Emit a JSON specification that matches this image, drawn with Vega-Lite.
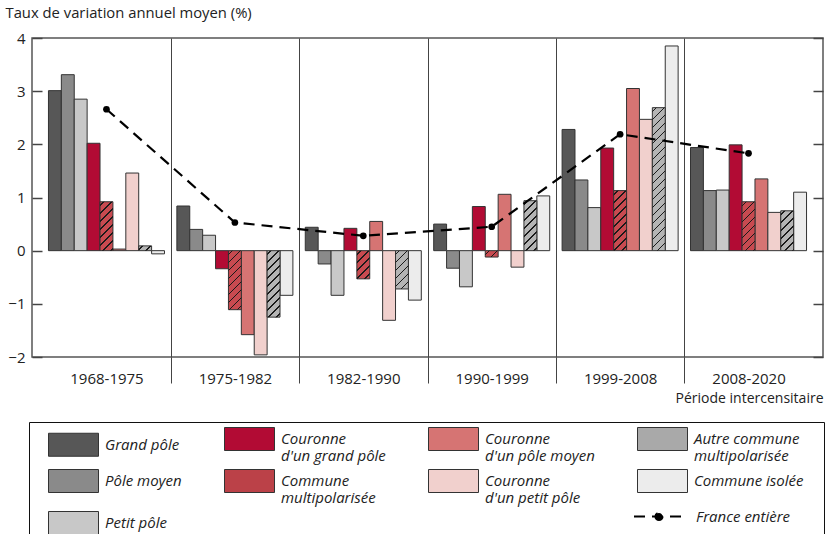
{
  "$schema": "https://vega.github.io/schema/vega-lite/v6.json",
  "autosize": {"type": "none"},
  "width": 791,
  "height": 319,
  "padding": {"left": 32, "top": 38, "right": 3, "bottom": 177},
  "config": {
    "font": "Open Sans",
    "view": {"stroke": "#555", "strokeWidth": 1.5}
  },
  "datasets": {
    "bars": [
      {"periode": "1968-1975", "serie": "Grand pôle", "value": 3.01},
      {"periode": "1968-1975", "serie": "Pôle moyen", "value": 3.31},
      {"periode": "1968-1975", "serie": "Petit pôle", "value": 2.85},
      {"periode": "1968-1975", "serie": "Couronne d'un grand pôle", "value": 2.02},
      {"periode": "1968-1975", "serie": "Commune multipolarisée", "value": 0.92},
      {"periode": "1968-1975", "serie": "Couronne d'un pôle moyen", "value": 0.03},
      {"periode": "1968-1975", "serie": "Couronne d'un petit pôle", "value": 1.46},
      {"periode": "1968-1975", "serie": "Autre commune multipolarisée", "value": 0.09},
      {"periode": "1968-1975", "serie": "Commune isolée", "value": -0.06},
      {"periode": "1975-1982", "serie": "Grand pôle", "value": 0.84},
      {"periode": "1975-1982", "serie": "Pôle moyen", "value": 0.40},
      {"periode": "1975-1982", "serie": "Petit pôle", "value": 0.29},
      {"periode": "1975-1982", "serie": "Couronne d'un grand pôle", "value": -0.34},
      {"periode": "1975-1982", "serie": "Commune multipolarisée", "value": -1.11},
      {"periode": "1975-1982", "serie": "Couronne d'un pôle moyen", "value": -1.58},
      {"periode": "1975-1982", "serie": "Couronne d'un petit pôle", "value": -1.96},
      {"periode": "1975-1982", "serie": "Autre commune multipolarisée", "value": -1.25},
      {"periode": "1975-1982", "serie": "Commune isolée", "value": -0.84},
      {"periode": "1982-1990", "serie": "Grand pôle", "value": 0.44},
      {"periode": "1982-1990", "serie": "Pôle moyen", "value": -0.25},
      {"periode": "1982-1990", "serie": "Petit pôle", "value": -0.84},
      {"periode": "1982-1990", "serie": "Couronne d'un grand pôle", "value": 0.42},
      {"periode": "1982-1990", "serie": "Commune multipolarisée", "value": -0.53},
      {"periode": "1982-1990", "serie": "Couronne d'un pôle moyen", "value": 0.55},
      {"periode": "1982-1990", "serie": "Couronne d'un petit pôle", "value": -1.31},
      {"periode": "1982-1990", "serie": "Autre commune multipolarisée", "value": -0.72},
      {"periode": "1982-1990", "serie": "Commune isolée", "value": -0.93},
      {"periode": "1990-1999", "serie": "Grand pôle", "value": 0.50},
      {"periode": "1990-1999", "serie": "Pôle moyen", "value": -0.33},
      {"periode": "1990-1999", "serie": "Petit pôle", "value": -0.68},
      {"periode": "1990-1999", "serie": "Couronne d'un grand pôle", "value": 0.83},
      {"periode": "1990-1999", "serie": "Commune multipolarisée", "value": -0.12},
      {"periode": "1990-1999", "serie": "Couronne d'un pôle moyen", "value": 1.06},
      {"periode": "1990-1999", "serie": "Couronne d'un petit pôle", "value": -0.31},
      {"periode": "1990-1999", "serie": "Autre commune multipolarisée", "value": 0.94},
      {"periode": "1990-1999", "serie": "Commune isolée", "value": 1.03},
      {"periode": "1999-2008", "serie": "Grand pôle", "value": 2.28},
      {"periode": "1999-2008", "serie": "Pôle moyen", "value": 1.33},
      {"periode": "1999-2008", "serie": "Petit pôle", "value": 0.81},
      {"periode": "1999-2008", "serie": "Couronne d'un grand pôle", "value": 1.93},
      {"periode": "1999-2008", "serie": "Commune multipolarisée", "value": 1.13},
      {"periode": "1999-2008", "serie": "Couronne d'un pôle moyen", "value": 3.05},
      {"periode": "1999-2008", "serie": "Couronne d'un petit pôle", "value": 2.47},
      {"periode": "1999-2008", "serie": "Autre commune multipolarisée", "value": 2.69},
      {"periode": "1999-2008", "serie": "Commune isolée", "value": 3.85},
      {"periode": "2008-2020", "serie": "Grand pôle", "value": 1.94},
      {"periode": "2008-2020", "serie": "Pôle moyen", "value": 1.13},
      {"periode": "2008-2020", "serie": "Petit pôle", "value": 1.14},
      {"periode": "2008-2020", "serie": "Couronne d'un grand pôle", "value": 1.99},
      {"periode": "2008-2020", "serie": "Commune multipolarisée", "value": 0.92},
      {"periode": "2008-2020", "serie": "Couronne d'un pôle moyen", "value": 1.35},
      {"periode": "2008-2020", "serie": "Couronne d'un petit pôle", "value": 0.72},
      {"periode": "2008-2020", "serie": "Autre commune multipolarisée", "value": 0.75},
      {"periode": "2008-2020", "serie": "Commune isolée", "value": 1.10}
    ],
    "france": [
      {"periode": "1968-1975", "serie": "France entière", "value": 2.66},
      {"periode": "1975-1982", "serie": "France entière", "value": 0.53},
      {"periode": "1982-1990", "serie": "France entière", "value": 0.28},
      {"periode": "1990-1999", "serie": "France entière", "value": 0.45},
      {"periode": "1999-2008", "serie": "France entière", "value": 2.19},
      {"periode": "2008-2020", "serie": "France entière", "value": 1.83}
    ]
  },
  "resolve": {"axis": {"y": "independent"}},
  "layer": [
    {
      "data": {"name": "bars"},
      "transform": [{"filter": {"not": {"field": "serie", "oneOf": ["Commune multipolarisée", "Autre commune multipolarisée"]}}}],
      "mark": {"type": "bar", "stroke": "#333", "strokeWidth": 1},
      "encoding": {
        "x": {
          "field": "periode", "type": "nominal",
          "scale": {"domain": ["1968-1975", "1975-1982", "1982-1990", "1990-1999", "1999-2008", "2008-2020"], "paddingInner": 0, "paddingOuter": 0.08},
          "axis": {
            "orient": "bottom", "tickBand": "extent", "grid": true, "gridColor": "#444", "gridWidth": 1,
            "gridOpacity": {"condition": {"test": "datum.index < 0 || datum.value === '2008-2020'", "value": 0}, "value": 1},
            "tickOpacity": {"condition": {"test": "datum.index < 0 || datum.value === '2008-2020'", "value": 0}, "value": 1},
            "ticks": true, "tickSize": 26, "tickColor": "#444", "tickWidth": 1, "domain": false,
            "labelAngle": 0, "labelFontSize": 15, "labelPadding": -12, "labelColor": "#222",
            "title": "Période intercensitaire", "titleX": 791, "titleY": 41, "titleAlign": "right",
            "titleBaseline": "middle", "titleFontSize": 14, "titleFontWeight": "normal", "titleColor": "#222"
          }
        },
        "xOffset": {
          "field": "serie", "type": "nominal",
          "scale": {"domain": ["Grand pôle", "Pôle moyen", "Petit pôle", "Couronne d'un grand pôle", "Commune multipolarisée", "Couronne d'un pôle moyen", "Couronne d'un petit pôle", "Autre commune multipolarisée", "Commune isolée"], "paddingInner": 0, "paddingOuter": 0.48}
        },
        "y": {
          "field": "value", "type": "quantitative",
          "scale": {"domain": [-2, 4], "nice": false},
          "axis": {
            "orient": "left", "values": [-2, -1, 0, 1, 2, 3, 4], "tickSize": -10, "tickColor": "#444", "tickWidth": 1.5,
            "domain": false, "grid": false, "labelFontSize": 15, "labelPadding": 17, "labelColor": "#222",
            "title": "Taux de variation annuel moyen (%)", "titleAngle": 0, "titleAlign": "left", "titleBaseline": "middle",
            "titleX": -27, "titleY": -25, "titleFontSize": 14.8, "titleFontWeight": "normal", "titleColor": "#222"
          }
        },
        "color": {
          "field": "serie", "type": "nominal",
          "scale": {
            "domain": ["Grand pôle", "Couronne d'un grand pôle", "Couronne d'un pôle moyen", "Autre commune multipolarisée", "Pôle moyen", "Commune multipolarisée", "Couronne d'un petit pôle", "Commune isolée", "Petit pôle"],
            "range": ["#575757", "#b20b34", "#d67473", "#a9a9a9", "#8a8a8a", "#bb4148", "#f1d0cd", "#ececec", "#c8c8c8"]
          },
          "legend": {
            "title": "\u00a0", "titleOrient": "right", "titlePadding": 16, "titleFontSize": 10,
            "orient": "none", "legendX": -3, "legendY": 384, "columns": 4, "direction": "horizontal",
            "gridAlign": "each", "columnPadding": 28, "rowPadding": 3, "padding": 5, "symbolOffset": 14,
            "labelOffset": 33, "labelFontSize": 15, "labelFontStyle": "italic", "labelColor": "#222", "labelLimit": 300,
            "symbolType": "M-1,-1H3.348V1H-1Z", "symbolSize": 529, "symbolStrokeColor": "#333", "symbolStrokeWidth": 1,
            "strokeColor": "#111",
            "labelExpr": "indexof(datum.label, 'Couronne ') === 0 ? ['Couronne', substring(datum.label, 9)] : datum.label === 'Commune multipolarisée' ? ['Commune', 'multipolarisée'] : datum.label === 'Autre commune multipolarisée' ? ['Autre commune', 'multipolarisée'] : datum.label"
          }
        }
      }
    },
    {
      "data": {"name": "bars"},
      "transform": [{"filter": {"field": "serie", "oneOf": ["Commune multipolarisée", "Autre commune multipolarisée"]}}],
      "mark": {"type": "bar", "stroke": "#333", "strokeWidth": 1, "fill": {"expr": "datum.serie === 'Commune multipolarisée' ? '#c84a50' : '#b4b4b4'"}},
      "encoding": {
        "x": {"field": "periode", "type": "nominal"},
        "xOffset": {"field": "serie", "type": "nominal"},
        "y": {"field": "value", "type": "quantitative", "axis": null}
      }
    },
    {
      "data": {"name": "bars"},
      "transform": [{"filter": {"field": "serie", "oneOf": ["Commune multipolarisée", "Autre commune multipolarisée"]}}],
      "mark": {
        "type": "bar", "strokeWidth": 0,
        "fill": {"expr": "{gradient: 'linear', x1: 0, y1: 0, x2: 160*bandwidth('xOffset')/(pow(bandwidth('xOffset'),2)+pow(scale('y',datum.value)-scale('y',0),2)), y2: 160*abs(scale('y',datum.value)-scale('y',0))/(pow(bandwidth('xOffset'),2)+pow(scale('y',datum.value)-scale('y',0),2)), stops: [{offset:0,color:'transparent'},{offset:0.02,color:'transparent'},{offset:0.02,color:'#1a1a1a'},{offset:0.03,color:'#1a1a1a'},{offset:0.03,color:'transparent'},{offset:0.07,color:'transparent'},{offset:0.07,color:'#1a1a1a'},{offset:0.08,color:'#1a1a1a'},{offset:0.08,color:'transparent'},{offset:0.12,color:'transparent'},{offset:0.12,color:'#1a1a1a'},{offset:0.13,color:'#1a1a1a'},{offset:0.13,color:'transparent'},{offset:0.17,color:'transparent'},{offset:0.17,color:'#1a1a1a'},{offset:0.18,color:'#1a1a1a'},{offset:0.18,color:'transparent'},{offset:0.22,color:'transparent'},{offset:0.22,color:'#1a1a1a'},{offset:0.23,color:'#1a1a1a'},{offset:0.23,color:'transparent'},{offset:0.27,color:'transparent'},{offset:0.27,color:'#1a1a1a'},{offset:0.28,color:'#1a1a1a'},{offset:0.28,color:'transparent'},{offset:0.32,color:'transparent'},{offset:0.32,color:'#1a1a1a'},{offset:0.33,color:'#1a1a1a'},{offset:0.33,color:'transparent'},{offset:0.37,color:'transparent'},{offset:0.37,color:'#1a1a1a'},{offset:0.38,color:'#1a1a1a'},{offset:0.38,color:'transparent'},{offset:0.42,color:'transparent'},{offset:0.42,color:'#1a1a1a'},{offset:0.43,color:'#1a1a1a'},{offset:0.43,color:'transparent'},{offset:0.47,color:'transparent'},{offset:0.47,color:'#1a1a1a'},{offset:0.48,color:'#1a1a1a'},{offset:0.48,color:'transparent'},{offset:0.52,color:'transparent'},{offset:0.52,color:'#1a1a1a'},{offset:0.53,color:'#1a1a1a'},{offset:0.53,color:'transparent'},{offset:0.57,color:'transparent'},{offset:0.57,color:'#1a1a1a'},{offset:0.58,color:'#1a1a1a'},{offset:0.58,color:'transparent'},{offset:0.62,color:'transparent'},{offset:0.62,color:'#1a1a1a'},{offset:0.63,color:'#1a1a1a'},{offset:0.63,color:'transparent'},{offset:0.67,color:'transparent'},{offset:0.67,color:'#1a1a1a'},{offset:0.68,color:'#1a1a1a'},{offset:0.68,color:'transparent'},{offset:0.72,color:'transparent'},{offset:0.72,color:'#1a1a1a'},{offset:0.73,color:'#1a1a1a'},{offset:0.73,color:'transparent'},{offset:0.77,color:'transparent'},{offset:0.77,color:'#1a1a1a'},{offset:0.78,color:'#1a1a1a'},{offset:0.78,color:'transparent'},{offset:0.82,color:'transparent'},{offset:0.82,color:'#1a1a1a'},{offset:0.83,color:'#1a1a1a'},{offset:0.83,color:'transparent'},{offset:0.87,color:'transparent'},{offset:0.87,color:'#1a1a1a'},{offset:0.88,color:'#1a1a1a'},{offset:0.88,color:'transparent'},{offset:0.92,color:'transparent'},{offset:0.92,color:'#1a1a1a'},{offset:0.93,color:'#1a1a1a'},{offset:0.93,color:'transparent'},{offset:0.97,color:'transparent'},{offset:0.97,color:'#1a1a1a'},{offset:0.98,color:'#1a1a1a'},{offset:0.98,color:'transparent'},{offset:1,color:'transparent'}]}"}
      },
      "encoding": {
        "x": {"field": "periode", "type": "nominal"},
        "xOffset": {"field": "serie", "type": "nominal"},
        "y": {"field": "value", "type": "quantitative", "axis": null}
      }
    },
    {
      "mark": {"type": "rule", "color": "#555", "strokeWidth": 1.5},
      "encoding": {
        "y": {"datum": 0, "type": "quantitative", "axis": {"orient": "right", "labels": false, "values": [-2, -1, 0, 1, 2, 3, 4], "tickSize": -10, "tickColor": "#444", "tickWidth": 1.5, "domain": false, "grid": false, "title": null}}
      }
    },
    {
      "data": {"name": "france"},
      "mark": {"type": "line", "strokeWidth": 2.2, "color": "#000"},
      "encoding": {
        "x": {"field": "periode", "type": "nominal"},
        "y": {"field": "value", "type": "quantitative", "axis": null},
        "strokeDash": {
          "field": "serie", "type": "nominal",
          "scale": {"domain": ["France entière"], "range": [[11, 7]]},
          "legend": {
            "title": null, "orient": "none", "legendX": 601, "legendY": 466, "padding": 0,
            "symbolType": "M-1,0H3.348 M0.861,0A0.313,0.313 0 1,0 1.487,0A0.313,0.313 0 1,0 0.861,0Z",
            "symbolSize": 529, "symbolFillColor": "#000", "symbolStrokeColor": "#000", "symbolStrokeWidth": 2,
            "labelOffset": 38, "labelFontSize": 15, "labelFontStyle": "italic", "labelColor": "#222", "labelLimit": 300
          }
        }
      }
    },
    {
      "data": {"name": "france"},
      "mark": {"type": "point", "filled": true, "size": 45, "color": "#000", "opacity": 1},
      "encoding": {
        "x": {"field": "periode", "type": "nominal"},
        "y": {"field": "value", "type": "quantitative", "axis": null}
      }
    }
  ]
}
